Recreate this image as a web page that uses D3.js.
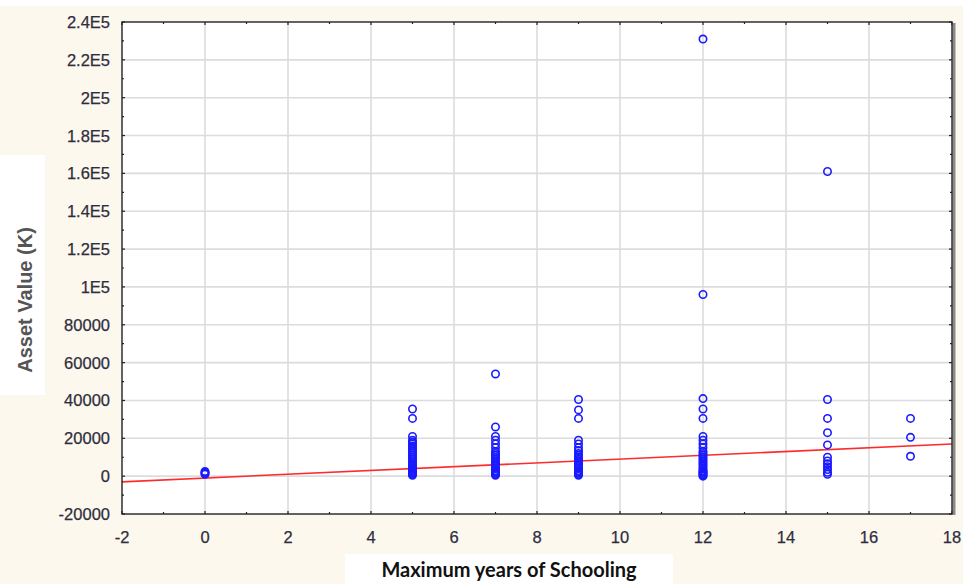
<!DOCTYPE html>
<html>
<head>
<meta charset="utf-8">
<script src="https://cdn.jsdelivr.net/npm/d3@7"></script>
<style>
  html, body { margin: 0; padding: 0; background: #fdf8ee; }
  svg { display: block; }
</style>
</head>
<body>
<svg id="chart" width="963" height="584"></svg>
<script>
// Schooling levels (years) observed in the survey
const schoolingYears = [0, 5, 7, 9, 12, 15, 17];

// Asset values (K) recorded for households at each schooling level
const assets0  = [1000, 1500, 2000, 2500];
const assets5  = [500, 1000, 1500, 2000, 2500, 3000, 3500, 4000, 4500, 5000, 6000, 7000, 8000, 9000,
                  10000, 11000, 12000, 13000, 14000, 15000, 16000, 17000, 18000, 19000, 21000, 30500, 35500];
const assets7  = [500, 1000, 1500, 2000, 2500, 3000, 4000, 5000, 6000, 7000, 8000, 9000, 10000,
                  11000, 12000, 13000, 15000, 17000, 19000, 21000, 26000, 54000];
const assets9  = [500, 1000, 1500, 2000, 2500, 3000, 4000, 5000, 6000, 7000, 8000, 9000, 10000, 11000,
                  12000, 13500, 15000, 17000, 19000, 30500, 35000, 40500];
const assets12 = [0, 500, 1000, 1500, 2000, 2500, 3000, 4000, 5000, 6000, 7000, 8000, 9000, 10000, 11000,
                  12000, 13000, 15000, 17000, 19000, 21000, 30500, 35500, 41000, 96000, 231000];
const assets15 = [1000, 2000, 3500, 5000, 6500, 8000, 10000, 16500, 23000, 30500, 40500, 161000];
const assets17 = [10500, 20500, 30500];

const assetGroups = [assets0, assets5, assets7, assets9, assets12, assets15, assets17];

// Linear fit endpoints (years, asset value)
const fitYears  = [-2, 18];
const fitValues = [-3000, 17000];

// Axis ticks
const xTicks = [-2, 0, 2, 4, 6, 8, 10, 12, 14, 16, 18];
const yTicks = [-20000, 0, 20000, 40000, 60000, 80000, 100000, 120000, 140000, 160000, 180000, 200000, 220000, 240000];
const yTickLabels = ["-20000", "0", "20000", "40000", "60000", "80000", "1E5", "1.2E5", "1.4E5",
                     "1.6E5", "1.8E5", "2E5", "2.2E5", "2.4E5"];

const svg = d3.select("#chart");
const W = 963, H = 584;
const plot = { left: 122, right: 952, top: 22, bottom: 514 };

// Paper background with lighter patches behind the axis titles
svg.append("rect").attr("x", 0).attr("y", 0).attr("width", W).attr("height", 6).attr("fill", "#ffffff");
svg.append("rect").attr("x", 0).attr("y", 155).attr("width", 45).attr("height", 240).attr("fill", "#ffffff");
svg.append("rect").attr("x", 345).attr("y", 554).attr("width", 328).attr("height", 30).attr("fill", "#ffffff");

const x = d3.scaleLinear().domain([-2, 18]).range([plot.left, plot.right]);
const y = d3.scaleLinear().domain([-20000, 240000]).range([plot.bottom, plot.top]);

// Plot area
svg.append("rect")
  .attr("x", plot.left).attr("y", plot.top)
  .attr("width", plot.right - plot.left).attr("height", plot.bottom - plot.top)
  .attr("fill", "#ffffff");

// Grid
const grid = svg.append("g").attr("stroke", "#dcdcdc").attr("stroke-width", 1.6);
grid.selectAll("line.gx").data(xTicks.slice(1, -1)).join("line")
  .attr("x1", d => x(d)).attr("x2", d => x(d))
  .attr("y1", plot.top).attr("y2", plot.bottom);
grid.selectAll("line.gy").data(yTicks.slice(1, -1)).join("line")
  .attr("x1", plot.left).attr("x2", plot.right)
  .attr("y1", d => y(d)).attr("y2", d => y(d));

// Inside ticks on all four sides (major + minor)
const xMinor = d3.range(-1, 18, 2);
const yMinor = d3.range(-10000, 240000, 20000);
const tickG = svg.append("g").attr("stroke", "#222").attr("stroke-width", 1.2);
function addXTicks(vals, len) {
  vals.forEach(v => {
    tickG.append("line").attr("x1", x(v)).attr("x2", x(v)).attr("y1", plot.bottom).attr("y2", plot.bottom - len);
    tickG.append("line").attr("x1", x(v)).attr("x2", x(v)).attr("y1", plot.top).attr("y2", plot.top + len);
  });
}
function addYTicks(vals, len) {
  vals.forEach(v => {
    tickG.append("line").attr("y1", y(v)).attr("y2", y(v)).attr("x1", plot.left).attr("x2", plot.left + len);
    tickG.append("line").attr("y1", y(v)).attr("y2", y(v)).attr("x1", plot.right).attr("x2", plot.right - len);
  });
}
addXTicks(xTicks, 3);
addXTicks(xMinor, 2);
addYTicks(yTicks, 3);
addYTicks(yMinor, 2);

// Fit line
svg.append("line")
  .attr("x1", x(fitYears[0])).attr("y1", y(fitValues[0]))
  .attr("x2", x(fitYears[1])).attr("y2", y(fitValues[1]))
  .attr("stroke", "#ff2a2a").attr("stroke-width", 1.6);

// Points
const points = [];
schoolingYears.forEach((yr, i) => assetGroups[i].forEach(v => points.push({ yr, v })));
svg.append("g").selectAll("circle").data(points).join("circle")
  .attr("cx", d => x(d.yr)).attr("cy", d => y(d.v)).attr("r", 3.7)
  .attr("fill", "none").attr("stroke", "#1a1aff").attr("stroke-width", 1.6);

// Frame with a shadow on the right edge
svg.append("line").attr("x1", plot.right + 2).attr("x2", plot.right + 2)
  .attr("y1", plot.top + 1).attr("y2", plot.bottom + 1)
  .attr("stroke", "#8a8a8a").attr("stroke-width", 3);
svg.append("rect")
  .attr("x", plot.left).attr("y", plot.top)
  .attr("width", plot.right - plot.left).attr("height", plot.bottom - plot.top)
  .attr("fill", "none").attr("stroke", "#222").attr("stroke-width", 1.4);

// Tick labels
const labelFont = "'Liberation Sans', Arial, sans-serif";
svg.append("g").selectAll("text").data(xTicks).join("text")
  .attr("x", d => x(d)).attr("y", 543)
  .attr("text-anchor", "middle")
  .attr("font-family", labelFont).attr("font-size", 16.5).attr("fill", "#2e2e3e")
  .attr("stroke", "#2e2e3e").attr("stroke-width", 0.25)
  .text(d => d);
svg.append("g").selectAll("text").data(yTicks).join("text")
  .attr("x", 110).attr("y", d => y(d) + 6)
  .attr("text-anchor", "end")
  .attr("font-family", labelFont).attr("font-size", 16.5).attr("fill", "#2e2e3e")
  .attr("stroke", "#2e2e3e").attr("stroke-width", 0.25)
  .text((d, i) => yTickLabels[i]);

// Axis titles
svg.append("text")
  .attr("x", 509).attr("y", 577)
  .attr("text-anchor", "middle")
  .attr("font-family", "Lato, 'Open Sans', sans-serif").attr("font-weight", "bold")
  .attr("font-size", 20).attr("fill", "#111")
  .text("Maximum years of Schooling");
svg.append("text")
  .attr("transform", "translate(32,300) rotate(-90)")
  .attr("text-anchor", "middle")
  .attr("font-family", labelFont).attr("font-weight", "bold")
  .attr("font-size", 20).attr("fill", "#555")
  .text("Asset Value (K)");
</script>
</body>
</html>
